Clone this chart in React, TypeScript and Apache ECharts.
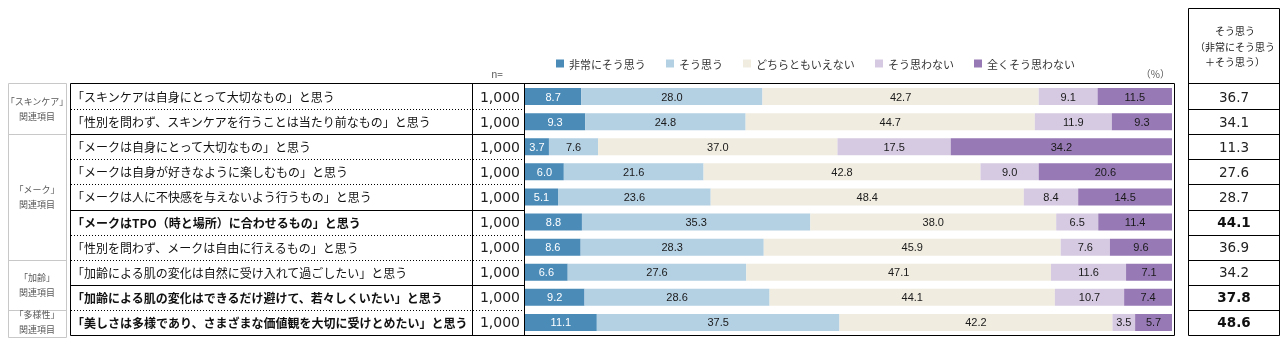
import React, { useEffect, useRef } from "react";
import * as echarts from "echarts";

const statements = [
  "「スキンケアは自身にとって大切なもの」と思う",
  "「性別を問わず、スキンケアを行うことは当たり前なもの」と思う",
  "「メークは自身にとって大切なもの」と思う",
  "「メークは自身が好きなように楽しむもの」と思う",
  "「メークは人に不快感を与えないよう行うもの」と思う",
  "「メークはTPO（時と場所）に合わせるもの」と思う",
  "「性別を問わず、メークは自由に行えるもの」と思う",
  "「加齢による肌の変化は自然に受け入れて過ごしたい」と思う",
  "「加齢による肌の変化はできるだけ避けて、若々しくいたい」と思う",
  "「美しさは多様であり、さまざまな価値観を大切に受けとめたい」と思う",
];
const boldRows = [false, false, false, false, false, true, false, false, true, true];
const nValues = ["1,000", "1,000", "1,000", "1,000", "1,000", "1,000", "1,000", "1,000", "1,000", "1,000"];

const seriesNames = ["非常にそう思う", "そう思う", "どちらともいえない", "そう思わない", "全くそう思わない"];
const verySo = [8.7, 9.3, 3.7, 6.0, 5.1, 8.8, 8.6, 6.6, 9.2, 11.1];
const so = [28.0, 24.8, 7.6, 21.6, 23.6, 35.3, 28.3, 27.6, 28.6, 37.5];
const neither = [42.7, 44.7, 37.0, 42.8, 48.4, 38.0, 45.9, 47.1, 44.1, 42.2];
const notSo = [9.1, 11.9, 17.5, 9.0, 8.4, 6.5, 7.6, 11.6, 10.7, 3.5];
const notAtAll = [11.5, 9.3, 34.2, 20.6, 14.5, 11.4, 9.6, 7.1, 7.4, 5.7];
const totals = ["36.7", "34.1", "11.3", "27.6", "28.7", "44.1", "36.9", "34.2", "37.8", "48.6"];

const groups = [
  { label: "「スキンケア」\n関連項目", from: 0, to: 1 },
  { label: "「メーク」\n関連項目", from: 2, to: 6 },
  { label: "「加齢」\n関連項目", from: 7, to: 8 },
  { label: "「多様性」\n関連項目", from: 9, to: 9 },
];
const solidAfter = [1, 4, 7];

const colors = ["#4a8bb8", "#b4d0e3", "#f0ece0", "#d6cae2", "#9779b5"];
const JP = "'Noto Sans CJK JP', sans-serif";
const NUM = "'DejaVu Sans', sans-serif";

export default function App() {
  const ref = useRef<HTMLDivElement>(null);
  useEffect(() => {
    if (!ref.current) return;
    const chart = echarts.init(ref.current, null, { renderer: "svg" });
    const dataSets = [verySo, so, neither, notSo, notAtAll];
    const option: any = {
      animation: false,
      legend: {
        data: seriesNames,
        left: 551,
        top: 53,
        itemWidth: 8,
        itemHeight: 8,
        itemGap: 20,
        icon: "rect",
        textStyle: { fontSize: 11, color: "#333", fontFamily: JP },
      },
      grid: { left: 525, right: 115, top: 84, height: 251 },
      xAxis: { type: "value", min: 0, max: 100, show: false },
      yAxis: [
        {
          type: "category",
          inverse: true,
          data: statements,
          axisLine: { show: false },
          axisTick: { show: false },
          splitLine: { show: false },
          axisLabel: {
            margin: 453,
            align: "left",
            formatter: (v: string, i: number) => (boldRows[i] ? `{b|${v}}` : `{n|${v}}`),
            rich: {
              n: { fontSize: 12, color: "#111", fontFamily: JP },
              b: { fontSize: 12, color: "#111", fontFamily: JP, fontWeight: "bold" },
            },
          },
        },
        {
          type: "category",
          inverse: true,
          position: "left",
          data: nValues,
          axisLine: { show: false },
          axisTick: { show: false },
          axisLabel: { margin: 5, fontSize: 14, color: "#222", fontFamily: NUM },
        },
        {
          type: "category",
          inverse: true,
          position: "right",
          data: totals,
          axisLine: { show: false },
          axisTick: { show: false },
          axisLabel: {
            margin: 62,
            align: "center",
            formatter: (v: string, i: number) => (boldRows[i] ? `{b|${v}}` : `{n|${v}}`),
            rich: {
              n: { fontSize: 13.5, color: "#222", fontFamily: NUM },
              b: { fontSize: 13.5, color: "#111", fontFamily: NUM, fontWeight: "bold" },
            },
          },
        },
      ],
      series: seriesNames.map((name, si) => ({
        name,
        type: "bar",
        stack: "total",
        yAxisIndex: 0,
        barWidth: 17,
        data: dataSets[si],
        itemStyle: { color: colors[si] },
        label: {
          show: true,
          position: "inside",
          formatter: (p: any) => Number(p.value).toFixed(1),
          fontSize: 11,
          fontFamily: "'Liberation Sans', Arial, sans-serif",
          color: si === 0 ? "#ffffff" : "#1a1a1a",
        },
      })),
    };
    chart.setOption(option);

    const yAt = (i: number) => chart.convertToPixel({ yAxisIndex: 0 }, i) as number;
    const half = (yAt(1) - yAt(0)) / 2;
    const top = yAt(0) - half;
    const bottom = yAt(statements.length - 1) + half;
    const bound = (i: number) => yAt(i) + half;
    const xRight = (chart.convertToPixel({ xAxisIndex: 0 }, 100) as number) + 2;

    const g: any[] = [];
    g.push({ type: "rect", shape: { x: 70.5, y: top - 0.5, width: xRight - 70, height: bottom - top + 1 }, style: { fill: "none", stroke: "#000", lineWidth: 1 }, z: 10 });
    g.push({ type: "line", shape: { x1: 472.5, y1: top, x2: 472.5, y2: bottom }, style: { stroke: "#000", lineWidth: 1 }, z: 10 });
    g.push({ type: "line", shape: { x1: 524.5, y1: top, x2: 524.5, y2: bottom }, style: { stroke: "#000", lineWidth: 1 }, z: 10 });
    for (let i = 0; i < statements.length - 1; i++) {
      const y = Math.round(bound(i)) + 0.5;
      const solid = solidAfter.includes(i);
      g.push({
        type: "line",
        shape: { x1: 71, y1: y, x2: 524, y2: y },
        style: { stroke: "#000", lineWidth: 1, lineDash: solid ? null : [1, 2] },
        z: 10,
      });
    }
    g.push({ type: "rect", shape: { x: 8.5, y: top - 0.5, width: 58, height: bottom - top + 3 }, style: { fill: "none", stroke: "#c8c8c8", lineWidth: 1 }, z: 10 });
    groups.forEach((gr, gi) => {
      const cy = (yAt(gr.from) + yAt(gr.to)) / 2;
      g.push({
        type: "text",
        x: 37,
        y: cy,
        style: { text: gr.label, fontSize: 9, fill: "#595959", fontFamily: JP, align: "center", verticalAlign: "middle", lineHeight: 15 },
        z: 10,
      });
      if (gi < groups.length - 1) {
        const y = Math.round(bound(gr.to)) + 0.5;
        g.push({ type: "line", shape: { x1: 9, y1: y, x2: 66, y2: y }, style: { stroke: "#c8c8c8", lineWidth: 1 }, z: 10 });
      }
    });
    g.push({ type: "rect", shape: { x: 1188.5, y: 8.5, width: 91, height: bottom - 8 }, style: { fill: "none", stroke: "#000", lineWidth: 1 }, z: 10 });
    g.push({ type: "line", shape: { x1: 1189, y1: Math.round(top) - 0.5, x2: 1280, y2: Math.round(top) - 0.5 }, style: { stroke: "#000", lineWidth: 1 }, z: 10 });
    for (let i = 0; i < statements.length - 1; i++) {
      const y = Math.round(bound(i)) + 0.5;
      g.push({ type: "line", shape: { x1: 1189, y1: y, x2: 1280, y2: y }, style: { stroke: "#000", lineWidth: 1 }, z: 10 });
    }
    g.push({
      type: "text",
      x: 1235,
      y: 46,
      style: { text: "そう思う\n（非常にそう思う\n＋そう思う）", fontSize: 10, fill: "#222", fontFamily: JP, align: "center", verticalAlign: "middle", lineHeight: 15.5 },
      z: 10,
    });
    g.push({ type: "text", x: 497, y: 73, style: { text: "n=", fontSize: 10, fill: "#595959", fontFamily: JP, align: "center", verticalAlign: "middle" }, z: 10 });
    g.push({ type: "text", x: 1170, y: 73, style: { text: "（%）", fontSize: 10, fill: "#595959", fontFamily: JP, align: "right", verticalAlign: "middle" }, z: 10 });

    chart.setOption({ graphic: { elements: g } });
    return () => chart.dispose();
  }, []);
  return <div ref={ref} style={{ position: "fixed", left: 0, top: 0, width: 1287, height: 346 }} />;
}
